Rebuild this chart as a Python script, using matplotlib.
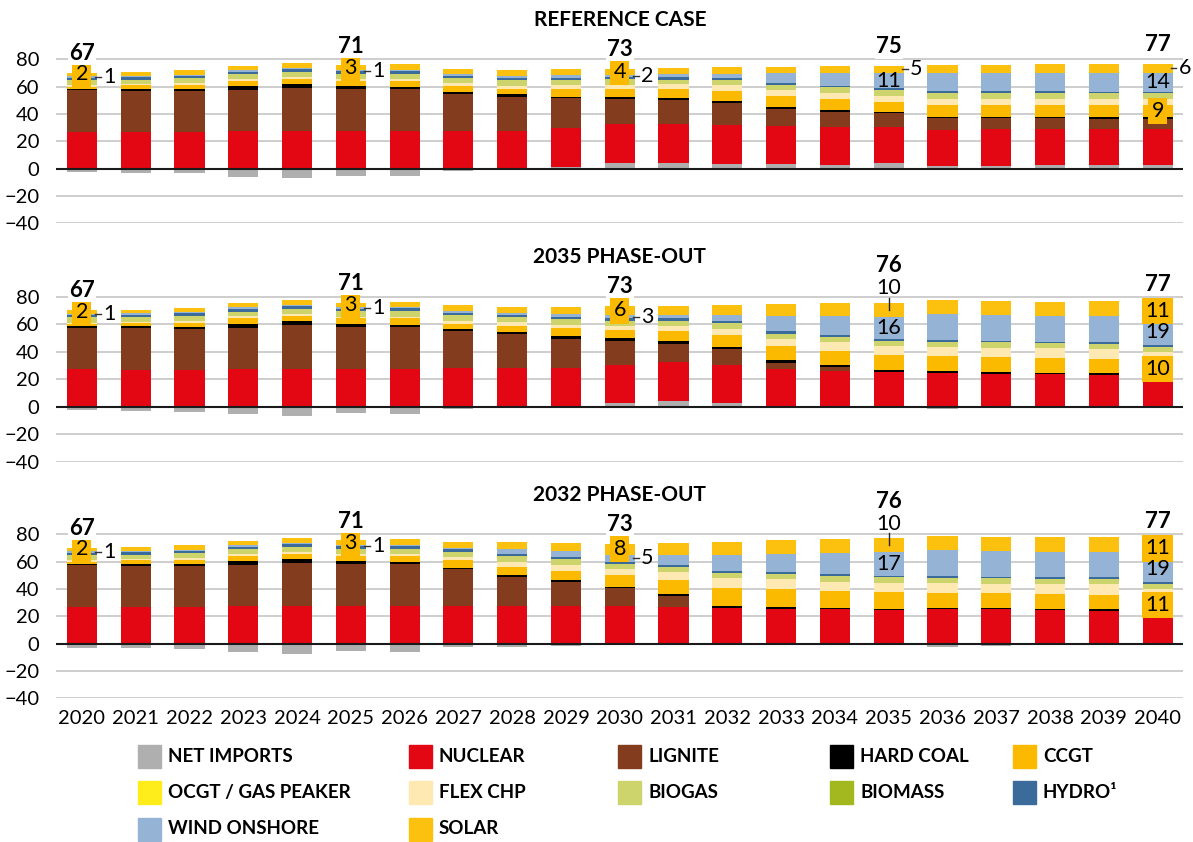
import matplotlib
matplotlib.use("Agg")
import matplotlib.pyplot as plt
import numpy as np
from matplotlib.patches import Rectangle

plt.rcParams["font.family"] = ["Lato", "DejaVu Sans"]

years = list(range(2020, 2041))
categories = ["NET IMPORTS", "NUCLEAR", "LIGNITE", "HARD COAL", "CCGT",
              "OCGT / GAS PEAKER", "FLEX CHP", "BIOGAS", "BIOMASS", "HYDRO¹",
              "WIND ONSHORE", "SOLAR"]
colors = ["#AFAFAF", "#E30613", "#843C1E", "#000000", "#FBB900",
          "#FFEC1A", "#FFE9B3", "#CDD46B", "#A2B81E", "#3A6B9B",
          "#95B3D5", "#FCC10E"]

# --- reference case ---
ref_imports = [-2.5, -3.5, -3, -6, -7, -5.5, -5.5, -2, 0, 1.5, 4.4, 4.4, 3.4, 3.7, 2.4, 3.9, 2, 2, 2.4, 2.4, 2.7]
ref_nuclear = [27.1, 27, 27, 27.6, 27.6, 27.6, 27.6, 27.6, 27.6, 28, 28, 28, 28.6, 27.8, 27.8, 26.8, 26.3, 26.8, 26.4, 26.4, 26.1]
ref_lignite = [30.5, 30.1, 29.8, 30, 31.7, 30.7, 30.7, 27.4, 25.1, 22, 18.6, 17.8, 16.3, 12.4, 11.5, 9.8, 8.5, 8, 8, 7.8, 7.8]
ref_hardcoal = [1, 1.5, 1.5, 2.9, 2.7, 2.2, 1.5, 1.2, 2, 1, 1.5, 1.5, 1.2, 1.5, 1.2, 1, 1, 1, 1, 1, 1]
ref_ccgt = [1.4, 2.4, 2.9, 3.7, 3.7, 3.9, 4.6, 4.1, 3.9, 5.6, 5.9, 6.3, 7.3, 7.8, 8.3, 7.6, 8.8, 8.8, 8.8, 9, 9]
ref_ocgt = [0] * 21
ref_flex = [1, 0.7, 1.2, 1.5, 1.7, 1, 1.2, 2.4, 2, 2.9, 2.9, 3.7, 4.4, 4.4, 3.9, 4.4, 4.6, 4.6, 4.4, 4.4, 4.4]
ref_biogas = [4, 3.2, 3.7, 3.4, 3.4, 3.9, 3.9, 3.7, 4.4, 3.9, 4.1, 3.2, 3.7, 3.7, 4.4, 4.1, 4.4, 4.4, 4.1, 4.1, 4.1]
ref_biomass = [0] * 21
ref_hydro = [1.6, 2, 2, 2, 2.2, 2, 2.2, 1.5, 1.7, 1.7, 2, 2, 1.2, 1.7, 1.2, 1.2, 1.2, 1.2, 1.5, 1, 1]
ref_wind = [1.2, 1, 0.8, 1.2, 1, 1, 0.8, 1.5, 1.5, 2, 1.5, 2.4, 3.2, 6.8, 9.5, 11.3, 13.4, 13.4, 13.7, 14.1, 14.1]
ref_solar = [2.5, 2.7, 3.2, 2.9, 3.4, 3.4, 3.9, 3.9, 4.1, 4.4, 4.2, 4.4, 4.9, 4.9, 4.9, 5.1, 5.6, 5.9, 6.3, 6.3, 6.5]

# --- 2035 phase-out ---
p35_imports = [-2.5, -3, -3.5, -5.5, -7, -4.8, -5.3, -1.5, 0, 0, 2.9, 4.1, 2.9, 0, 0, 0, -1.7, 0, 0, 0, 0]
p35_nuclear = [27.1, 27, 27, 27.6, 27.6, 27.6, 27.6, 27.9, 27.9, 28.4, 27.4, 28.1, 27.4, 27.4, 25.9, 25.5, 24.7, 24, 23.5, 23, 21.8]
p35_lignite = [30.5, 30.1, 29.8, 30, 31.7, 30.7, 30.7, 27.4, 24.9, 20.8, 17.5, 13.3, 11.6, 4.6, 3.2, 0, 0, 0, 0, 0, 0]
p35_hardcoal = [1, 1.5, 1.5, 2.9, 2.7, 2.2, 1.5, 1.2, 1.7, 2.4, 2.4, 2.2, 1.5, 1.9, 1.5, 1.2, 1.2, 1.2, 1.2, 1.5, 0.5]
p35_ccgt = [1.4, 2.4, 2.9, 3.7, 3.7, 3.9, 4.6, 3.4, 4.1, 5.3, 5.6, 7.3, 8.7, 10.4, 9.9, 10.9, 11.2, 11.2, 10.9, 10.2, 10]
p35_ocgt = [0] * 21
p35_flex = [1, 0.7, 1.2, 1.5, 1.7, 1, 1.2, 2.4, 2.7, 2.4, 3.2, 3.6, 4.4, 4.8, 6.3, 6.5, 6.5, 6.5, 6.8, 7.3, 7.3]
p35_biogas = [4, 3.2, 3.7, 3.4, 3.4, 3.9, 3.9, 4.4, 4.1, 4.4, 3.6, 3.6, 4.6, 4.1, 4.1, 3.6, 3.6, 3.9, 3.6, 3.6, 3.8]
p35_biomass = [0] * 21
p35_hydro = [1.6, 2, 2, 2, 2.2, 2, 2.2, 1.7, 1.2, 1.7, 1.7, 2.4, 1.2, 1.7, 1.2, 1.5, 1.2, 1, 1.2, 1.5, 1.2]
p35_wind = [1.2, 1, 0.8, 1.2, 1, 1, 0.8, 1.5, 1.7, 1.9, 2.6, 2.4, 4.4, 10.9, 13.8, 16.2, 18.7, 18.9, 18.7, 19.2, 19.3]
p35_solar = [2.5, 2.7, 3.2, 2.9, 3.4, 3.4, 3.9, 4.1, 3.9, 5.3, 6.5, 6.1, 7.3, 8.7, 9.7, 10.4, 10.7, 10.4, 10.4, 10.9, 11.2]

# --- 2032 phase-out ---
p32_imports = [-2.9, -3.4, -3.5, -6.3, -7.6, -5.1, -6.3, -2.7, -2.2, -1.7, 0, 0, 0, 0, 0, 0, -2.7, -1.7, 0, 0, 0]
p32_nuclear = [27.1, 27, 27, 27.6, 27.6, 27.6, 27.6, 27.8, 27.8, 27.8, 27.8, 26.6, 25.9, 25.4, 25.1, 24.6, 25.4, 25.1, 24.6, 23.9, 22.2]
p32_lignite = [30.5, 30.1, 29.8, 30, 31.7, 30.7, 30.7, 26.8, 21.2, 17.6, 12.7, 8.3, 0, 0, 0, 0, 0, 0, 0, 0, 0]
p32_hardcoal = [1, 1.5, 1.5, 2.9, 2.7, 2.2, 1.5, 1.2, 1.5, 1.2, 1.2, 1.2, 1.7, 1.2, 1.2, 1.2, 1, 1, 1, 1.2, 0.5]
p32_ccgt = [1.4, 2.4, 2.9, 3.7, 3.7, 3.9, 4.6, 5.4, 5.9, 6.8, 8.5, 10.5, 12.9, 13.4, 12.2, 12.2, 11, 11.2, 10.7, 10.5, 11]
p32_ocgt = [0] * 21
p32_flex = [1, 0.7, 1.2, 1.5, 1.7, 1, 1.2, 2, 3.7, 4.6, 4.4, 6.1, 7.3, 7.3, 6.8, 6.6, 7.3, 6.8, 7.3, 7.8, 6.5]
p32_biogas = [4, 3.2, 3.7, 3.4, 3.4, 3.9, 3.9, 4.1, 4.1, 3.9, 4.1, 3.7, 4.1, 4.1, 4.1, 3.9, 3.7, 3.7, 3.7, 3.9, 3.9]
p32_biomass = [0] * 21
p32_hydro = [1.6, 2, 2, 2, 2.2, 2, 2.2, 1.7, 1.2, 1.5, 1.2, 1.2, 1.2, 1.2, 1.5, 1.2, 1.2, 1.2, 1.2, 1.2, 1.2]
p32_wind = [1.2, 1, 0.8, 1.2, 1, 1, 0.8, 1.2, 3.7, 4.4, 5.2, 7.3, 11.7, 13.4, 15.6, 17.3, 19, 19, 18.8, 18.8, 19]
p32_solar = [2.5, 2.7, 3.2, 2.9, 3.4, 3.4, 3.9, 4.4, 5.6, 6.3, 8.2, 9, 9.8, 10.2, 10, 10.2, 10.2, 10.2, 10.5, 10.5, 11]

# total labels above selected years
total_years = [2020, 2025, 2030, 2035, 2040]
ref_totals = [67, 71, 73, 75, 77]
p35_totals = [67, 71, 73, 76, 77]
p32_totals = [67, 71, 73, 76, 77]

# segment labels: (year, category index, text, style)
ref_labels = [(2020, 11, "2", "box"), (2020, 10, "1", "side"),
              (2025, 11, "3", "box"), (2025, 10, "1", "side"),
              (2030, 11, "4", "box"), (2030, 10, "2", "side"),
              (2035, 10, "11", "in"), (2035, 11, "5", "side"),
              (2040, 10, "14", "in"), (2040, 11, "6", "side"), (2040, 4, "9", "box")]
p35_labels = [(2020, 11, "2", "box"), (2020, 10, "1", "side"),
              (2025, 11, "3", "box"), (2025, 10, "1", "side"),
              (2030, 11, "6", "box"), (2030, 10, "3", "side"),
              (2035, 10, "16", "in"), (2035, 11, "10", "top"),
              (2040, 11, "11", "box"), (2040, 10, "19", "in"), (2040, 4, "10", "box")]
p32_labels = [(2020, 11, "2", "box"), (2020, 10, "1", "side"),
              (2025, 11, "3", "box"), (2025, 10, "1", "side"),
              (2030, 11, "8", "box"), (2030, 10, "5", "side"),
              (2035, 10, "17", "in"), (2035, 11, "10", "top"),
              (2040, 11, "11", "box"), (2040, 10, "19", "in"), (2040, 4, "11", "box")]

panels = [
    ("REFERENCE CASE",
     [ref_imports, ref_nuclear, ref_lignite, ref_hardcoal, ref_ccgt, ref_ocgt, ref_flex,
      ref_biogas, ref_biomass, ref_hydro, ref_wind, ref_solar], ref_totals, ref_labels),
    ("2035 PHASE-OUT",
     [p35_imports, p35_nuclear, p35_lignite, p35_hardcoal, p35_ccgt, p35_ocgt, p35_flex,
      p35_biogas, p35_biomass, p35_hydro, p35_wind, p35_solar], p35_totals, p35_labels),
    ("2032 PHASE-OUT",
     [p32_imports, p32_nuclear, p32_lignite, p32_hardcoal, p32_ccgt, p32_ocgt, p32_flex,
      p32_biogas, p32_biomass, p32_hydro, p32_wind, p32_solar], p32_totals, p32_labels),
]

W, H = 1193, 842
fig = plt.figure(figsize=(W / 100, H / 100), dpi=100)
positions = [[0.047, 0.7348, 0.945, 0.2108],
             [0.047, 0.4517, 0.945, 0.2122],
             [0.047, 0.1705, 0.945, 0.2110]]

x = np.arange(len(years))
bw = 0.56
box_color = "#FBB900"

for pi, (title, series, totals, labels) in enumerate(panels):
    ax = fig.add_axes(positions[pi])
    data = np.array(series, dtype=float)
    imports = data[0]
    base = np.maximum(imports, 0)
    bottoms = np.zeros_like(data)
    ax.bar(x, imports, bw, bottom=0, color=colors[0], zorder=2)
    cum = base.copy()
    for ci in range(1, len(categories)):
        bottoms[ci] = cum
        ax.bar(x, data[ci], bw, bottom=cum, color=colors[ci], zorder=2)
        cum = cum + data[ci]
    tops = cum

    ax.set_xlim(-0.48, len(years) - 0.52)
    ax.set_ylim(-40, 90)
    ax.set_yticks([-40, -20, 0, 20, 40, 60, 80])
    ax.grid(axis="y", color="#C6C6C6", lw=1.2, zorder=0)
    ax.axhline(0, color="#1a1a1a", lw=1.5, zorder=3)
    for s in ax.spines.values():
        s.set_visible(False)
    ax.tick_params(length=0, labelsize=14.5, pad=12)
    ax.set_xticks(x)
    if pi == 2:
        ax.set_xticklabels([str(y) for y in years], fontsize=14.5)
        ax.tick_params(axis="x", pad=8)
    else:
        ax.set_xticklabels([])

    ax.text(0.5, 1.145, title, transform=ax.transAxes, ha="center", va="center",
            fontsize=15, fontweight="bold")

    top_years = set()
    for (yr, ci, txt, style) in labels:
        i = years.index(yr)
        mid = bottoms[ci][i] + data[ci][i] / 2
        if style == "box":
            ax.text(i, mid, txt, ha="center", va="center", fontsize=15.5, zorder=5,
                    bbox=dict(boxstyle="square,pad=0.15", fc=box_color, ec="none"))
        elif style == "in":
            ax.text(i, mid, txt, ha="center", va="center", fontsize=15.5, zorder=5)
        elif style == "side":
            ax.plot([i + 0.24, i + 0.35], [mid, mid], color="#333333", lw=1, zorder=5,
                    clip_on=False)
            ax.text(i + 0.39, mid, txt, ha="left", va="center", fontsize=15.5, zorder=5)
        elif style == "top":
            top_years.add(yr)
            ax.plot([i, i], [mid, tops[i] + 3.5], color="#222222", lw=1, zorder=5)
            ax.text(i, tops[i] + 10.5, txt, ha="center", va="center", fontsize=15.5, zorder=5)

    for yr, tot in zip(total_years, totals):
        i = years.index(yr)
        off = 27 if yr in top_years else 14
        ax.text(i, tops[i] + off, str(tot), ha="center", va="center", fontsize=16,
                fontweight="bold", zorder=6,
                bbox=dict(boxstyle="square,pad=0.05", fc="white", ec="none"))

# legend
col_x = [138, 409, 618, 830, 1013]
row_y = [756, 792.5, 829]
order = [[0, 1, 2, 3, 4], [5, 6, 7, 8, 9], [10, 11]]
for r, row in enumerate(order):
    for c, ci in enumerate(row):
        px, py = col_x[c], row_y[r]
        fig.add_artist(Rectangle((px / W, 1 - (py + 11.5) / H), 23 / W, 23 / H,
                                 transform=fig.transFigure, color=colors[ci]))
        fig.text((px + 30) / W, 1 - py / H, categories[ci], ha="left", va="center",
                 fontsize=13.5, fontweight="bold")

fig.savefig("out.png", dpi=100)
